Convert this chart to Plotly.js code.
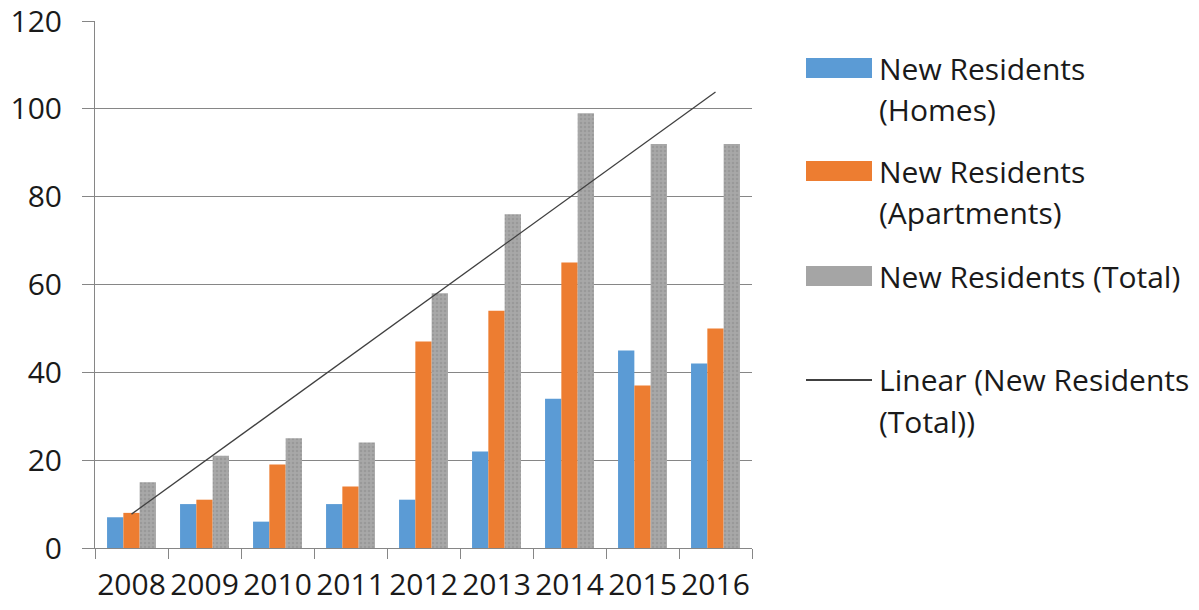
<!DOCTYPE html>
<html>
<head>
<meta charset="utf-8">
<script src="https://cdn.plot.ly/plotly-3.0.1.min.js"></script>
<style>
  html, body { margin: 0; padding: 0; background: #fff; }
  #chart { width: 1199px; height: 610px; }
</style>
</head>
<body>
<div id="chart"></div>
<script>
// Yearly new residents by housing type
const years = ['2008', '2009', '2010', '2011', '2012', '2013', '2014', '2015', '2016'];
const homes = [7, 10, 6, 10, 11, 22, 34, 45, 42];
const apartments = [8, 11, 19, 14, 47, 54, 65, 37, 50];
const total = [15, 21, 25, 24, 58, 76, 99, 92, 92];
const yTicks = [0, 20, 40, 60, 80, 100, 120];

const seriesNames = [
  'New Residents<br>(Homes)',
  'New Residents<br>(Apartments)',
  'New Residents (Total)',
  'Linear (New Residents<br>(Total))'
];

// Least-squares trend of the total series over the year index
function linearTrend(values) {
  const n = values.length;
  const xs = values.map((_, i) => i + 1);
  const mx = xs.reduce((a, b) => a + b, 0) / n;
  const my = values.reduce((a, b) => a + b, 0) / n;
  let sxy = 0, sxx = 0;
  xs.forEach((x, i) => { sxy += (x - mx) * (values[i] - my); sxx += (x - mx) * (x - mx); });
  const slope = sxy / sxx;
  return xs.map(x => my + slope * (x - mx));
}
const trend = linearTrend(total);

const FONT = '"Open Sans", "Noto Sans", sans-serif';
const BLUE = '#5b9bd5', ORANGE = '#ed7d31', GRAY = '#a5a5a5', TREND = '#404040';

const traces = [
  { type: 'bar', x: years, y: homes, name: seriesNames[0],
    marker: { color: BLUE, line: { width: 0 } } },
  { type: 'bar', x: years, y: apartments, name: seriesNames[1],
    marker: { color: ORANGE, line: { width: 0 } } },
  { type: 'bar', x: years, y: total, name: seriesNames[2],
    marker: { color: GRAY, line: { width: 0 },
      pattern: { shape: '.', size: 4, solidity: 0.3, fgcolor: '#999999', bgcolor: '#a8a8a8' } } },
  { type: 'scatter', mode: 'lines', x: years, y: trend, name: seriesNames[3],
    line: { color: TREND, width: 1.3 } }
];

// Legend drawn as swatches and labels to the right of the plot
const legendItems = [
  { kind: 'rect', color: BLUE, y: 68, lines: ['New Residents', '(Homes)'] },
  { kind: 'rect', color: ORANGE, y: 171, lines: ['New Residents', '(Apartments)'] },
  { kind: 'rect', color: GRAY, y: 276, lines: ['New Residents (Total)'] },
  { kind: 'line', color: TREND, y: 380, lines: ['Linear (New Residents', '(Total))'] }
];
const W = 1199, H = 610;
const PX0 = 95, PW = 657, PY0 = 548, PH = 527;
const px = v => (v - PX0) / PW;
const py = v => (PY0 - v) / PH;
const shapes = [], annotations = [];
legendItems.forEach(item => {
  if (item.kind === 'rect') {
    shapes.push({ type: 'rect', xref: 'paper', yref: 'paper',
      x0: px(806), x1: px(872), y0: py(item.y + 10), y1: py(item.y - 10),
      fillcolor: item.color, line: { width: 0 } });
  } else {
    shapes.push({ type: 'line', xref: 'paper', yref: 'paper',
      x0: px(806), x1: px(872), y0: py(item.y), y1: py(item.y),
      line: { color: '#000', width: 1.3 } });
  }
  item.lines.forEach((txt, k) => {
    annotations.push({ xref: 'paper', yref: 'paper',
      x: px(877), y: py(item.y + k * 41),
      xanchor: 'left', yanchor: 'middle', showarrow: false, text: txt,
      font: { family: FONT, size: 30, color: '#1a1a1a' } });
  });
});

const layout = {
  width: W, height: H,
  margin: { l: 95, r: 447, t: 21, b: 62 },
  paper_bgcolor: '#fff', plot_bgcolor: '#fff',
  showlegend: false,
  barmode: 'group', bargap: 0.33, bargroupgap: 0,
  font: { family: FONT, color: '#1a1a1a' },
  xaxis: {
    type: 'category', tickson: 'boundaries', tickangle: 0,
    showgrid: false, showline: true, linecolor: '#868686', linewidth: 1,
    ticks: 'outside', ticklen: 10, tickcolor: '#868686',
    ticklabelstandoff: 10,
    tickfont: { family: FONT, size: 30, color: '#1a1a1a' },
    zeroline: false, fixedrange: true
  },
  yaxis: {
    range: [0, 120.001], tickmode: 'array', tickvals: yTicks, ticktext: yTicks.map(String),
    ticklabeloverflow: 'allow',
    showgrid: true, gridcolor: '#868686', gridwidth: 1,
    showline: true, linecolor: '#868686', linewidth: 1,
    ticks: 'outside', ticklen: 12, tickcolor: '#868686',
    ticklabelstandoff: 14,
    tickfont: { family: FONT, size: 30, color: '#1a1a1a' },
    zeroline: false, fixedrange: true
  },
  shapes: shapes,
  annotations: annotations
};

Plotly.newPlot('chart', traces, layout, { displayModeBar: false, staticPlot: true });
</script>
</body>
</html>
